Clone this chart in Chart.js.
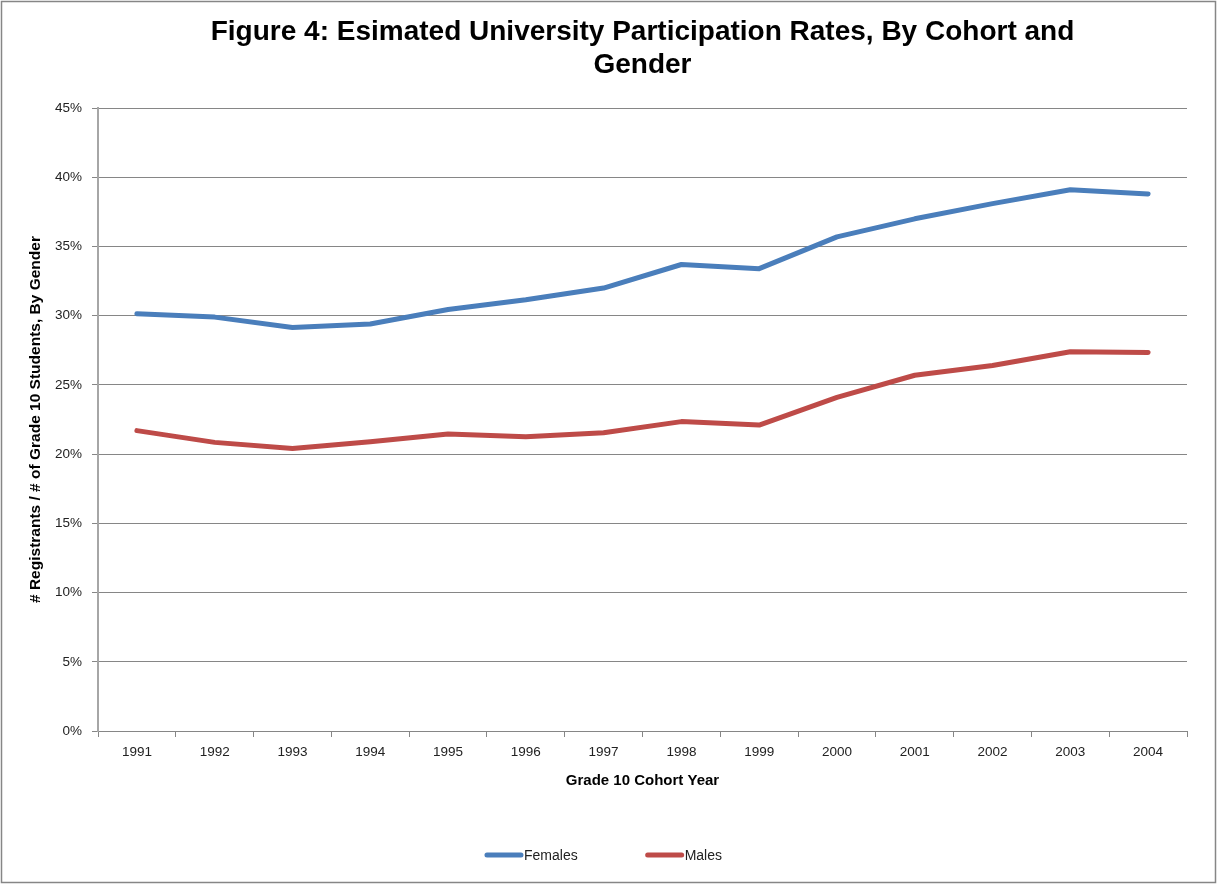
<!DOCTYPE html>
<html>
<head>
<meta charset="utf-8">
<title>University Participation Rates</title>
<script src="https://cdn.jsdelivr.net/npm/chart.js@4.4.1/dist/chart.umd.min.js"></script>
<style>
    html, body { margin: 0; padding: 0; background: #fff; }
    canvas { display: block; }
</style>
</head>
<body>
<canvas id="participationChart" width="1217" height="884"></canvas>
<script>
// Grade 10 cohorts and participation rates (%)
const cohortYears = ['1991', '1992', '1993', '1994', '1995', '1996', '1997',
                     '1998', '1999', '2000', '2001', '2002', '2003', '2004'];
const femalesRate = [30.15, 29.9, 29.15, 29.4, 30.45, 31.15, 32.0,
                     33.7, 33.4, 35.7, 37.0, 38.1, 39.1, 38.8];
const malesRate = [21.7, 20.85, 20.4, 20.9, 21.45, 21.25, 21.55,
                   22.35, 22.1, 24.1, 25.7, 26.4, 27.4, 27.35];
const rateTicks = [0, 5, 10, 15, 20, 25, 30, 35, 40, 45];

const GRID = '#868686';
const FONT = "'Liberation Sans', Arial, sans-serif";

// White background + thin frame around the whole chart
const chartFrame = {
    id: 'chartFrame',
    beforeDraw(chart) {
        const ctx = chart.ctx;
        ctx.save();
        ctx.fillStyle = '#fff';
        ctx.fillRect(0, 0, chart.width, chart.height);
        ctx.restore();
    },
    afterDraw(chart) {
        const ctx = chart.ctx;
        ctx.save();
        ctx.strokeStyle = GRID;
        ctx.lineWidth = 1.5;
        ctx.strokeRect(1.5, 1.5, chart.width - 3, chart.height - 3);
        ctx.restore();
    }
};

// Legend with line samples, drawn under the axis title
const lineLegend = {
    id: 'lineLegend',
    afterDraw(chart, args, opts) {
        const ctx = chart.ctx;
        const sets = chart.data.datasets;
        ctx.save();
        ctx.font = '14px ' + FONT;
        ctx.textBaseline = 'middle';
        const widths = sets.map(ds => opts.sample + 2 + ctx.measureText(ds.label).width);
        const total = widths.reduce((a, b) => a + b, 0) + opts.gap * (sets.length - 1);
        let x = opts.centerX - total / 2;
        sets.forEach((ds, i) => {
            ctx.strokeStyle = ds.borderColor;
            ctx.lineWidth = 5;
            ctx.lineCap = 'round';
            ctx.beginPath();
            ctx.moveTo(x + 2, opts.y);
            ctx.lineTo(x + opts.sample - 2, opts.y);
            ctx.stroke();
            ctx.fillStyle = '#222';
            ctx.fillText(ds.label, x + opts.sample + 1, opts.y + 1);
            x += widths[i] + opts.gap;
        });
        ctx.restore();
    }
};

new Chart(document.getElementById('participationChart'), {
    type: 'line',
    data: {
        labels: cohortYears,
        datasets: [{
            label: 'Females',
            data: femalesRate,
            borderColor: '#4A7EBB',
            backgroundColor: '#4A7EBB',
            borderWidth: 5,
            borderCapStyle: 'round',
            borderJoinStyle: 'round',
            pointRadius: 0,
            tension: 0,
            fill: false
        }, {
            label: 'Males',
            data: malesRate,
            borderColor: '#BE4B48',
            backgroundColor: '#BE4B48',
            borderWidth: 5,
            borderCapStyle: 'round',
            borderJoinStyle: 'round',
            pointRadius: 0,
            tension: 0,
            fill: false
        }]
    },
    options: {
        responsive: false,
        animation: false,
        devicePixelRatio: 1,
        layout: {
            padding: { top: 0, left: 0, right: 30, bottom: 88 }
        },
        plugins: {
            legend: { display: false },
            tooltip: { enabled: false },
            title: {
                display: true,
                fullSize: false,
                text: ['Figure 4: Esimated University Participation Rates, By Cohort and', 'Gender'],
                color: '#000',
                font: { family: FONT, size: 28, weight: 'bold', lineHeight: 1.18 },
                padding: { top: 16, bottom: 26 }
            },
            lineLegend: { centerX: 604, y: 855, sample: 38, gap: 67 }
        },
        scales: {
            x: {
                type: 'category',
                offset: true,
                afterFit(scale) { scale.height = 65; },
                grid: {
                    offset: true,
                    drawOnChartArea: false,
                    drawTicks: true,
                    tickLength: 6,
                    color: GRID
                },
                border: { color: GRID, width: 1 },
                ticks: {
                    color: '#222',
                    padding: 7,
                    maxRotation: 0,
                    autoSkip: false,
                    font: { family: FONT, size: 13.5 }
                },
                title: {
                    display: true,
                    text: 'Grade 10 Cohort Year',
                    color: '#000',
                    font: { family: FONT, size: 15, weight: 'bold' },
                    padding: { top: 0, bottom: 6 }
                }
            },
            y: {
                min: 0,
                max: 45,
                afterFit(scale) { scale.width = 98; },
                afterBuildTicks(scale) {
                    scale.ticks = rateTicks.map(v => ({ value: v }));
                },
                grid: {
                    color: GRID,
                    lineWidth: 1,
                    drawTicks: true,
                    tickLength: 6
                },
                border: { color: '#A6A6A6', width: 2 },
                ticks: {
                    color: '#222',
                    padding: 10,
                    font: { family: FONT, size: 13.5 },
                    callback: v => v + '%'
                },
                title: {
                    display: true,
                    text: '# Registrants / # of Grade 10 Students, By Gender',
                    color: '#000',
                    font: { family: FONT, size: 15.5, weight: 'bold' },
                    padding: { top: 26, bottom: 0 }
                }
            }
        }
    },
    plugins: [chartFrame, lineLegend]
});
</script>
</body>
</html>
